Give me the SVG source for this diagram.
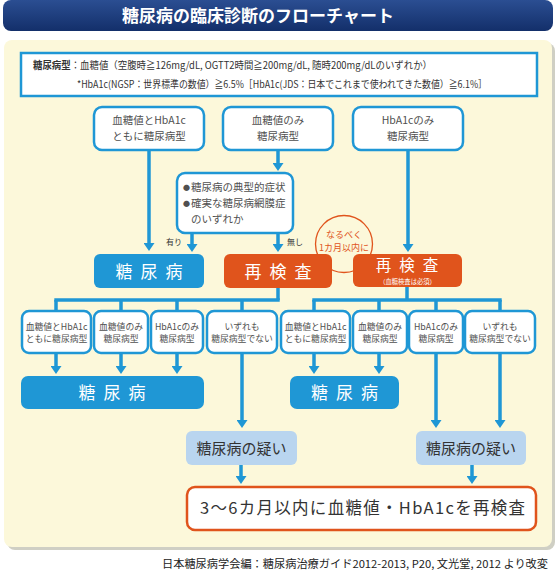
<svg xmlns="http://www.w3.org/2000/svg" width="560" height="572" viewBox="0 0 560 572">
<defs>
<linearGradient id="hdr" x1="0" y1="0" x2="0" y2="1">
<stop offset="0" stop-color="#2b4e92"/>
<stop offset="1" stop-color="#132f6a"/>
</linearGradient>
<marker id="ah" viewBox="0 0 8 11" markerUnits="userSpaceOnUse" markerWidth="8" markerHeight="11" refX="1" refY="5.5" orient="auto">
<path d="M0,0 L8,5.5 L0,11 z" fill="#1f97d5"/>
</marker>
</defs>
<style>
text{font-family:"Noto Sans CJK JP","Noto Sans",sans-serif;}
.c{fill:none;stroke:#1f97d5;stroke-width:3.5;}
.a{fill:none;stroke:#1f97d5;stroke-width:3.5;marker-end:url(#ah);}
.wb{fill:#fff;stroke:#1f97d5;stroke-width:2.5;}
.bb{fill:#1f97d5;}
.ob{fill:#e0541c;}
.lb{fill:#b9d5ef;}
.t{fill:#505050;font-size:10.5px;text-anchor:middle;}
.ts{fill:#505050;font-size:8.8px;text-anchor:middle;}
.big{fill:#fff;font-size:17px;text-anchor:middle;letter-spacing:8px;}
.bul{font-size:7px;}
</style>
<rect x="0" y="0" width="560" height="572" fill="#fff"/>
<g id="header">
<rect x="3" y="0" width="550" height="31" rx="8" fill="url(#hdr)"/>
<text x="258" y="22" fill="#fff" font-size="17" font-weight="bold" text-anchor="middle">糖尿病の臨床診断のフローチャート</text>
</g>
<g id="panel">
<rect x="7" y="43" width="548" height="507" rx="8" fill="#cfcfc4"/>
<rect x="4" y="40" width="548" height="507" rx="8" fill="#fcf8da"/>
</g>
<g id="definition">
<rect x="21" y="53" width="516" height="43" fill="#fff" stroke="#1f97d5" stroke-width="2.5"/>
<text x="33" y="69" fill="#333" font-size="10" textLength="399" lengthAdjust="spacingAndGlyphs"><tspan font-weight="bold">糖尿病型</tspan>：血糖値（空腹時≧126mg/dL, OGTT2時間≧200mg/dL, 随時200mg/dLのいずれか）</text>
<text x="77" y="88" fill="#333" font-size="10" textLength="410" lengthAdjust="spacingAndGlyphs">*HbA1c(NGSP：世界標準の数値）≧6.5%［HbA1c(JDS：日本でこれまで使われてきた数値）≧6.1%］</text>
</g>
<g id="note-circle">
<circle cx="344" cy="244" r="28.5" fill="#fcf8da" stroke="#e0541c" stroke-width="1.3"/>
<text x="344" y="238" fill="#e0541c" font-size="9" text-anchor="middle">なるべく</text>
<text x="344" y="251" fill="#e0541c" font-size="9" text-anchor="middle">1カ月以内に</text>
</g>
<g id="connectors">
<line class="a" x1="149" y1="150" x2="149" y2="244"/>
<line class="a" x1="278" y1="150" x2="278" y2="164"/>
<line class="a" x1="192" y1="233" x2="192" y2="245"/>
<line class="a" x1="278" y1="233" x2="278" y2="245"/>
<line class="a" x1="408" y1="150" x2="408" y2="245"/>
<polyline class="c" points="278,288 278,300"/>
<line class="c" x1="54.3" y1="300" x2="279.7" y2="300"/>
<line class="c" x1="56" y1="300" x2="56" y2="311"/>
<line class="c" x1="121" y1="300" x2="121" y2="311"/>
<line class="c" x1="177" y1="300" x2="177" y2="311"/>
<line class="c" x1="242" y1="300" x2="242" y2="311"/>
<line class="c" x1="407" y1="287" x2="407" y2="300"/>
<line class="c" x1="312.3" y1="300" x2="501.7" y2="300"/>
<line class="c" x1="314" y1="300" x2="314" y2="311"/>
<line class="c" x1="379" y1="300" x2="379" y2="311"/>
<line class="c" x1="436" y1="300" x2="436" y2="311"/>
<line class="c" x1="500" y1="300" x2="500" y2="311"/>
<line class="a" x1="56" y1="353" x2="56" y2="367"/>
<line class="a" x1="121" y1="353" x2="121" y2="367"/>
<line class="a" x1="177" y1="353" x2="177" y2="367"/>
<line class="a" x1="314" y1="353" x2="314" y2="367"/>
<line class="a" x1="379" y1="353" x2="379" y2="367"/>
<line class="a" x1="242" y1="353" x2="242" y2="421"/>
<line class="a" x1="436" y1="353" x2="436" y2="421"/>
<line class="a" x1="500" y1="353" x2="500" y2="421"/>
<line class="a" x1="241" y1="465" x2="241" y2="477"/>
<line class="a" x1="472" y1="465" x2="472" y2="477"/>
<text x="174" y="245" fill="#333" font-size="8" text-anchor="middle">有り</text>
<text x="295" y="245" fill="#333" font-size="8" text-anchor="middle">無し</text>
</g>
<g id="top-both">
<rect class="wb" x="94" y="107" width="110" height="43" rx="8"/>
<text class="t" x="149" y="124">血糖値とHbA1c</text>
<text class="t" x="149" y="140">ともに糖尿病型</text>
</g>
<g id="top-glucose">
<rect class="wb" x="223" y="107" width="110" height="43" rx="8"/>
<text class="t" x="278" y="124">血糖値のみ</text>
<text class="t" x="278" y="140">糖尿病型</text>
</g>
<g id="top-hba1c">
<rect class="wb" x="353" y="107" width="110" height="43" rx="8"/>
<text class="t" x="408" y="124">HbA1cのみ</text>
<text class="t" x="408" y="140">糖尿病型</text>
</g>
<g id="symptoms">
<rect class="wb" x="177" y="173" width="116" height="60" rx="8"/>
<text x="183" y="191" fill="#505050" font-size="10.5"><tspan class="bul" dy="-1">●</tspan><tspan dx="1" dy="1">糖尿病の典型的症状</tspan></text>
<text x="183" y="207" fill="#505050" font-size="10.5"><tspan class="bul" dy="-1">●</tspan><tspan dx="1" dy="1">確実な糖尿病網膜症</tspan></text>
<text x="191" y="223" fill="#505050" font-size="10.5">のいずれか</text>
</g>
<g id="dm-1">
<rect class="bb" x="94" y="254" width="110" height="34" rx="6"/>
<text class="big" x="153" y="278">糖尿病</text>
</g>
<g id="retest-1">
<rect class="ob" x="224" y="254" width="108" height="34" rx="6"/>
<text class="big" x="282" y="278">再検査</text>
</g>
<g id="retest-2">
<rect class="ob" x="353" y="254" width="109" height="33" rx="6"/>
<text class="big" x="411" y="271" style="font-size:15.5px">再検査</text>
<text x="407.5" y="284" fill="#fff" font-size="6.3" text-anchor="middle">（血糖検査は必須）</text>
</g>
<g id="l-both">
<rect class="wb" x="22" y="311" width="69" height="42" rx="7"/>
<text class="ts" x="56.5" y="330">血糖値とHbA1c</text>
<text class="ts" x="56.5" y="342">ともに糖尿病型</text>
</g>
<g id="l-glucose">
<rect class="wb" x="94" y="311" width="54" height="42" rx="7"/>
<text class="ts" x="121" y="330">血糖値のみ</text>
<text class="ts" x="121" y="342">糖尿病型</text>
</g>
<g id="l-hba1c">
<rect class="wb" x="151" y="311" width="52" height="42" rx="7"/>
<text class="ts" x="177" y="330">HbA1cのみ</text>
<text class="ts" x="177" y="342">糖尿病型</text>
</g>
<g id="l-neither">
<rect class="wb" x="207" y="311" width="70" height="42" rx="7"/>
<text class="ts" x="242" y="330">いずれも</text>
<text class="ts" x="242" y="342">糖尿病型でない</text>
</g>
<g id="r-both">
<rect class="wb" x="281" y="311" width="69" height="42" rx="7"/>
<text class="ts" x="315.5" y="330">血糖値とHbA1c</text>
<text class="ts" x="315.5" y="342">ともに糖尿病型</text>
</g>
<g id="r-glucose">
<rect class="wb" x="353" y="311" width="54" height="42" rx="7"/>
<text class="ts" x="380" y="330">血糖値のみ</text>
<text class="ts" x="380" y="342">糖尿病型</text>
</g>
<g id="r-hba1c">
<rect class="wb" x="409" y="311" width="54" height="42" rx="7"/>
<text class="ts" x="436" y="330">HbA1cのみ</text>
<text class="ts" x="436" y="342">糖尿病型</text>
</g>
<g id="r-neither">
<rect class="wb" x="465" y="311" width="70" height="42" rx="7"/>
<text class="ts" x="500" y="330">いずれも</text>
<text class="ts" x="500" y="342">糖尿病型でない</text>
</g>
<g id="dm-2">
<rect class="bb" x="21" y="376" width="183" height="33" rx="7"/>
<text class="big" x="116" y="399">糖尿病</text>
</g>
<g id="dm-3">
<rect class="bb" x="290" y="376" width="109" height="33" rx="7"/>
<text class="big" x="348.5" y="399">糖尿病</text>
</g>
<g id="suspect-1">
<rect class="lb" x="186" y="431" width="111" height="34" rx="6"/>
<text x="241.5" y="454" fill="#333" font-size="15" text-anchor="middle">糖尿病の疑い</text>
</g>
<g id="suspect-2">
<rect class="lb" x="416" y="431" width="110" height="34" rx="6"/>
<text x="471" y="454" fill="#333" font-size="15" text-anchor="middle">糖尿病の疑い</text>
</g>
<g id="recheck">
<rect x="187" y="487" width="349" height="43" rx="8" fill="#fff" stroke="#e0541c" stroke-width="2.5"/>
<text x="200" y="514" fill="#333" font-size="16.5" textLength="325" lengthAdjust="spacing">3～6カ月以内に血糖値・HbA1cを再検査</text>
</g>
<g id="footer">
<text x="162" y="568" fill="#222" font-size="11" textLength="386" lengthAdjust="spacingAndGlyphs">日本糖尿病学会編：糖尿病治療ガイド2012-2013, P20, 文光堂, 2012 より改変</text>
</g>
</svg>
